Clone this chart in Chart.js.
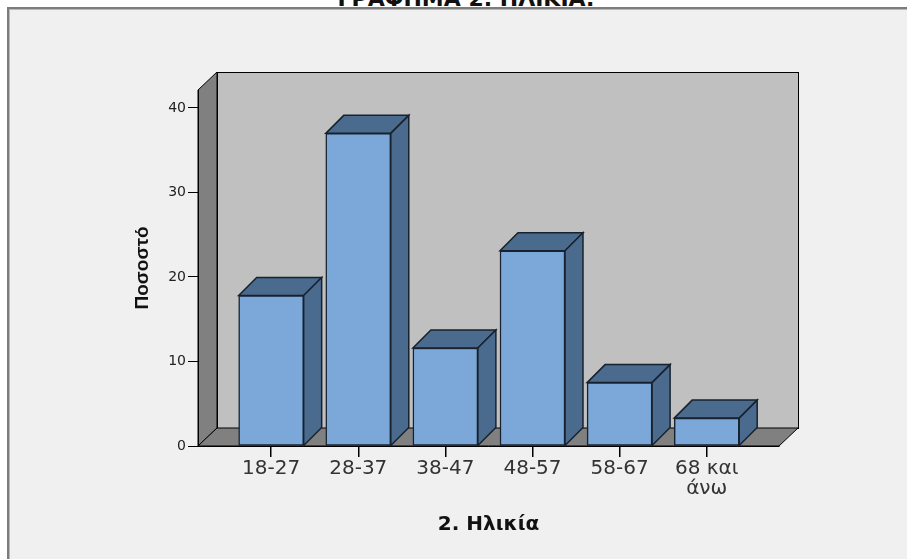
<!DOCTYPE html>
<html>
<head>
<meta charset="utf-8">
<script src="https://cdn.jsdelivr.net/npm/chart.js@4.4.1/dist/chart.umd.min.js"></script>
<style>
  body { margin: 0; background: #ffffff; overflow: hidden; }
  #wrap { position: relative; width: 907px; height: 559px; overflow: hidden; }
  #title {
    position: absolute; left: 466px; top: -12px; transform: translateX(-50%);
    font: bold 22px "DejaVu Sans"; line-height: 22px; color: #111; white-space: nowrap;
  }
  #frame {
    position: absolute; left: 7px; top: 7px; width: 940px; height: 600px;
    background: #f0f0f0; border-left: 2px solid #7c7c7c; border-top: 2px solid #7c7c7c;
    box-shadow: inset 1px 1px 0 #b8b8b8;
  }
  canvas { position: absolute; left: 0; top: 0; }
</style>
</head>
<body>
<div id="wrap">
  <div id="title">ΓΡΑΦΗΜΑ 2. ΗΛΙΚΙΑ:</div>
  <div id="frame"></div>
  <canvas id="Chart" width="907" height="559"></canvas>
</div>
<script>
// data
const categories = ["18-27", "28-37", "38-47", "48-57", "58-67", "68 και άνω"];
const tickLabels = ["18-27", "28-37", "38-47", "48-57", "58-67", ["68 και", "άνω"]];
const percent = [17.8, 37.0, 11.6, 23.1, 7.5, 3.3];
const yTicks = [0, 10, 20, 30, 40];

const frontColor = "#7ba8d8";
const darkColor = "#4a6a8e";
const edgeColor = "#17222e";

// walls + floor behind the bars, then top/side faces of each bar
const box3d = {
    id: "box3d",
    beforeDraw: function (chart) {
        const ctx = chart.ctx;
        const a = chart.chartArea;
        const dx = 19, dy = 18;
        ctx.save();
        ctx.lineWidth = 1;
        ctx.strokeStyle = "#000";
        // back wall
        ctx.fillStyle = "#c0c0c0";
        ctx.fillRect(a.left + dx, a.top - dy, a.right - a.left, a.bottom - a.top);
        ctx.strokeRect(a.left + dx + 0.5, a.top - dy + 0.5, a.right - a.left, a.bottom - a.top);
        // side wall
        ctx.fillStyle = "#808080";
        ctx.beginPath();
        ctx.moveTo(a.left, a.bottom);
        ctx.lineTo(a.left, a.top);
        ctx.lineTo(a.left + dx, a.top - dy);
        ctx.lineTo(a.left + dx, a.bottom - dy);
        ctx.closePath();
        ctx.fill();
        ctx.stroke();
        // floor
        ctx.beginPath();
        ctx.moveTo(a.left, a.bottom);
        ctx.lineTo(a.left + dx, a.bottom - dy);
        ctx.lineTo(a.right + dx, a.bottom - dy);
        ctx.lineTo(a.right, a.bottom);
        ctx.closePath();
        ctx.fill();
        ctx.stroke();
        ctx.restore();
    },
    beforeDatasetsDraw: function (chart) {
        const ctx = chart.ctx;
        const d = 18;
        ctx.save();
        ctx.lineWidth = 1.5;
        ctx.strokeStyle = edgeColor;
        ctx.fillStyle = darkColor;
        chart.getDatasetMeta(0).data.forEach(function (bar) {
            const l = bar.x - bar.width / 2, r = bar.x + bar.width / 2;
            const t = bar.y, b = bar.base;
            // top face
            ctx.beginPath();
            ctx.moveTo(l, t);
            ctx.lineTo(l + d, t - d);
            ctx.lineTo(r + d, t - d);
            ctx.lineTo(r, t);
            ctx.closePath();
            ctx.fill();
            ctx.stroke();
            // side face
            ctx.beginPath();
            ctx.moveTo(r, t);
            ctx.lineTo(r + d, t - d);
            ctx.lineTo(r + d, b - d);
            ctx.lineTo(r, b);
            ctx.closePath();
            ctx.fill();
            ctx.stroke();
        });
        ctx.restore();
    }
};

const ctx = document.getElementById("Chart");
const chart = new Chart(ctx, {
    type: "bar",
    data: {
        datasets: [{
            label: "Ποσοστό",
            data: percent.map((v, i) => ({ x: i, y: v })),
            backgroundColor: frontColor,
            borderColor: edgeColor,
            borderWidth: 1.5,
            borderSkipped: false,
            barThickness: 65,
        }],
    },
    options: {
        responsive: false,
        animation: false,
        devicePixelRatio: 1,
        layout: {
            padding: { top: 90, right: 128, left: 0, bottom: 0 },
        },
        plugins: {
            legend: { display: false },
            tooltip: { enabled: false },
        },
        scales: {
            x: {
                type: "linear",
                min: -0.84,
                max: 5.83,
                offset: false,
                afterBuildTicks: function (s) {
                    s.ticks = categories.map((c, i) => ({ value: i }));
                },
                afterFit: function (s) { s.height = 113; },
                grid: {
                    offset: false,
                    drawOnChartArea: false,
                    tickLength: 11,
                    tickColor: "#000",
                    lineWidth: 1.5,
                },
                border: { display: true, color: "#000", width: 1 },
                ticks: {
                    autoSkip: false,
                    maxRotation: 0,
                    padding: 2,
                    color: "#333",
                    font: { family: "DejaVu Sans", size: 20, lineHeight: 1.0 },
                    callback: function (value) { return tickLabels[value]; },
                },
                title: {
                    display: true,
                    text: "2. Ηλικία",
                    color: "#111",
                    font: { family: "DejaVu Sans", size: 20, weight: "bold" },
                    padding: { top: 0, bottom: 22 },
                },
            },
            y: {
                type: "linear",
                min: 0,
                max: 42.13,
                afterBuildTicks: function (s) {
                    s.ticks = yTicks.map(v => ({ value: v }));
                },
                afterFit: function (s) { s.width = 198; },
                grid: {
                    drawOnChartArea: false,
                    tickLength: 10,
                    tickColor: "#000",
                },
                border: { display: true, color: "#000", width: 1 },
                ticks: {
                    padding: 2,
                    color: "#222",
                    font: { family: "DejaVu Sans", size: 14 },
                },
                title: {
                    display: true,
                    text: "Ποσοστό",
                    color: "#111",
                    font: { family: "Liberation Sans", size: 19, weight: "bold" },
                    padding: { top: 131, bottom: 0 },
                },
            },
        },
    },
    plugins: [box3d],
});
</script>
</body>
</html>
